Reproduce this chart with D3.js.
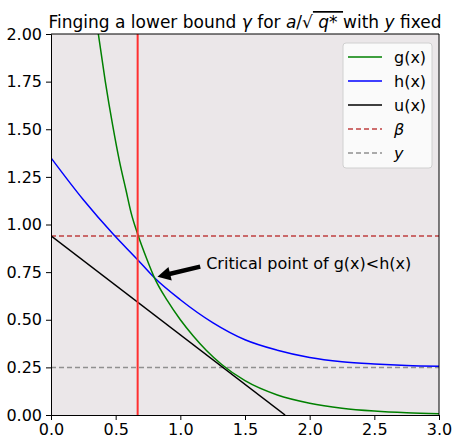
<!DOCTYPE html>
<html><head><meta charset="utf-8">
<script src="https://cdn.jsdelivr.net/npm/d3@7"></script>
<style>body{margin:0;background:#fff;font-family:"DejaVu Sans",sans-serif;}</style>
</head><body><div id="chart"></div>
<script>
// values
const xTicks = [0, 0.5, 1, 1.5, 2, 2.5, 3];
const yTicks = [0, 0.25, 0.5, 0.75, 1, 1.25, 1.5, 1.75, 2];
const gPts = [[0.366,2],[0.42,1.75],[0.477,1.52],[0.53,1.33],[0.58,1.18],[0.62,1.06],[0.67,0.95],[0.74,0.82],[0.8,0.72],[0.9,0.6],[1.0,0.5],[1.1,0.415],[1.2,0.34],[1.32,0.265],[1.5,0.18],[1.75,0.105],[2.0,0.062],[2.25,0.036],[2.5,0.021],[2.75,0.012],[3,0.007]];
const hPts = [[0,1.35],[0.25,1.13],[0.48,0.95],[0.67,0.815],[0.8,0.72],[1.0,0.605],[1.25,0.485],[1.5,0.395],[1.75,0.34],[2.0,0.302],[2.25,0.28],[2.5,0.268],[2.75,0.26],[3,0.256]];
const uPts = [[0,0.94],[1.81,0]];
const beta = 0.94, yFixed = 0.25, xCrit = 0.67;
const critPt = [0.8, 0.72], critText = [1.2, 0.8];
const legendItems = [
  {label:"g(x)", color:"green", dash:null, italic:false},
  {label:"h(x)", color:"blue", dash:null, italic:false},
  {label:"u(x)", color:"black", dash:null, italic:false},
  {label:"β", color:"#c04040", dash:"5,3", italic:true},
  {label:"y", color:"#909090", dash:"5,3", italic:true}
];

const margin = {top: 34, right: 21, bottom: 29, left: 51},
      width = 460 - margin.left - margin.right,
      height = 444 - margin.top - margin.bottom;

const root = d3.select("#chart").append("svg").attr("width", 460).attr("height", 444);
const svg = root.append("g").attr("transform", `translate(${margin.left},${margin.top})`);

const x = d3.scaleLinear().domain([0, 3]).range([0, width]);
const y = d3.scaleLinear().domain([0, 2]).range([height, 0]);

svg.append("rect").attr("width", width).attr("height", height).attr("fill", "#ebe7e9");
svg.append("clipPath").attr("id", "clip").append("rect").attr("width", width).attr("height", height);
const plot = svg.append("g").attr("clip-path", "url(#clip)");

const line = d3.line().x(d => x(d[0])).y(d => y(d[1])).curve(d3.curveMonotoneX);

plot.append("line").attr("x1", 0).attr("x2", width).attr("y1", y(beta)).attr("y2", y(beta))
  .attr("stroke", "#c04040").attr("stroke-width", 1.5).attr("stroke-dasharray", "5,3");
plot.append("line").attr("x1", 0).attr("x2", width).attr("y1", y(yFixed)).attr("y2", y(yFixed))
  .attr("stroke", "#909090").attr("stroke-width", 1.5).attr("stroke-dasharray", "5,3");
plot.append("path").attr("d", line(hPts)).attr("fill", "none").attr("stroke", "blue").attr("stroke-width", 1.5);
plot.append("path").attr("d", line(uPts)).attr("fill", "none").attr("stroke", "black").attr("stroke-width", 1.5);
plot.append("path").attr("d", line(gPts)).attr("fill", "none").attr("stroke", "green").attr("stroke-width", 1.5);
plot.append("line").attr("x1", x(xCrit)).attr("x2", x(xCrit)).attr("y1", 0).attr("y2", height)
  .attr("stroke", "#ff3030").attr("stroke-width", 2);

// annotation arrow
const ax0 = x(critText[0]) - 6, ay0 = y(critText[1]) + 4;
const ax1 = x(critPt[0]) + 3, ay1 = y(critPt[1]) - 1;
const ang = Math.atan2(ay1 - ay0, ax1 - ax0);
const rot = (dx, dy) => [ax1 + dx * Math.cos(ang) - dy * Math.sin(ang), ay1 + dx * Math.sin(ang) + dy * Math.cos(ang)];
svg.append("line").attr("x1", ax0).attr("y1", ay0).attr("x2", rot(-10, 0)[0]).attr("y2", rot(-10, 0)[1])
  .attr("stroke", "black").attr("stroke-width", 4.5);
svg.append("polygon").attr("points", [rot(0, 0), rot(-13, -7), rot(-13, 7)].map(p => p.join(",")).join(" "))
  .attr("fill", "black");
svg.append("text").attr("x", x(critText[0])).attr("y", y(critText[1]) + 6)
  .attr("font-size", 16).attr("fill", "black").text("Critical point of g(x)<h(x)");

// axes
const xAxis = svg.append("g").attr("transform", `translate(0,${height})`)
  .call(d3.axisBottom(x).tickValues(xTicks).tickFormat(d3.format(".1f")).tickSize(5).tickPadding(4));
const yAxis = svg.append("g")
  .call(d3.axisLeft(y).tickValues(yTicks).tickFormat(d3.format(".2f")).tickSize(5).tickPadding(4));
[xAxis, yAxis].forEach(a => {
  a.selectAll("text").attr("font-size", 16).attr("font-family", "DejaVu Sans").attr("fill", "black");
  a.select(".domain").attr("stroke", "black");
});
svg.append("line").attr("x1", 0).attr("x2", width).attr("y1", 0).attr("y2", 0).attr("stroke", "black");
svg.append("line").attr("x1", width).attr("x2", width).attr("y1", 0).attr("y2", height).attr("stroke", "black");

// title
const title = root.append("text").attr("x", 245).attr("y", 28).attr("text-anchor", "middle").attr("font-size", 17);
title.append("tspan").text("Finging a lower bound ");
title.append("tspan").attr("font-style", "italic").text("γ");
title.append("tspan").text(" for ");
title.append("tspan").attr("font-style", "italic").text("a");
title.append("tspan").text("/√");
title.append("tspan").attr("font-style", "italic").attr("text-decoration", "overline").text(" q* ");
title.append("tspan").text(" with ");
title.append("tspan").attr("font-style", "italic").text("y");
title.append("tspan").text(" fixed");

// legend
const lg = svg.append("g").attr("transform", `translate(${343 - margin.left},${43 - margin.top})`);
lg.append("rect").attr("width", 89).attr("height", 125).attr("rx", 3)
  .attr("fill", "#fafafa").attr("stroke", "#d0d0d0");
legendItems.forEach((d, i) => {
  const yy = 14 + i * 24;
  lg.append("line").attr("x1", 5).attr("x2", 39).attr("y1", yy).attr("y2", yy)
    .attr("stroke", d.color).attr("stroke-width", 1.5).attr("stroke-dasharray", d.dash);
  lg.append("text").attr("x", 51).attr("y", yy + 6).attr("font-size", 16)
    .attr("font-style", d.italic ? "italic" : "normal").text(d.label);
});
</script></body></html>
